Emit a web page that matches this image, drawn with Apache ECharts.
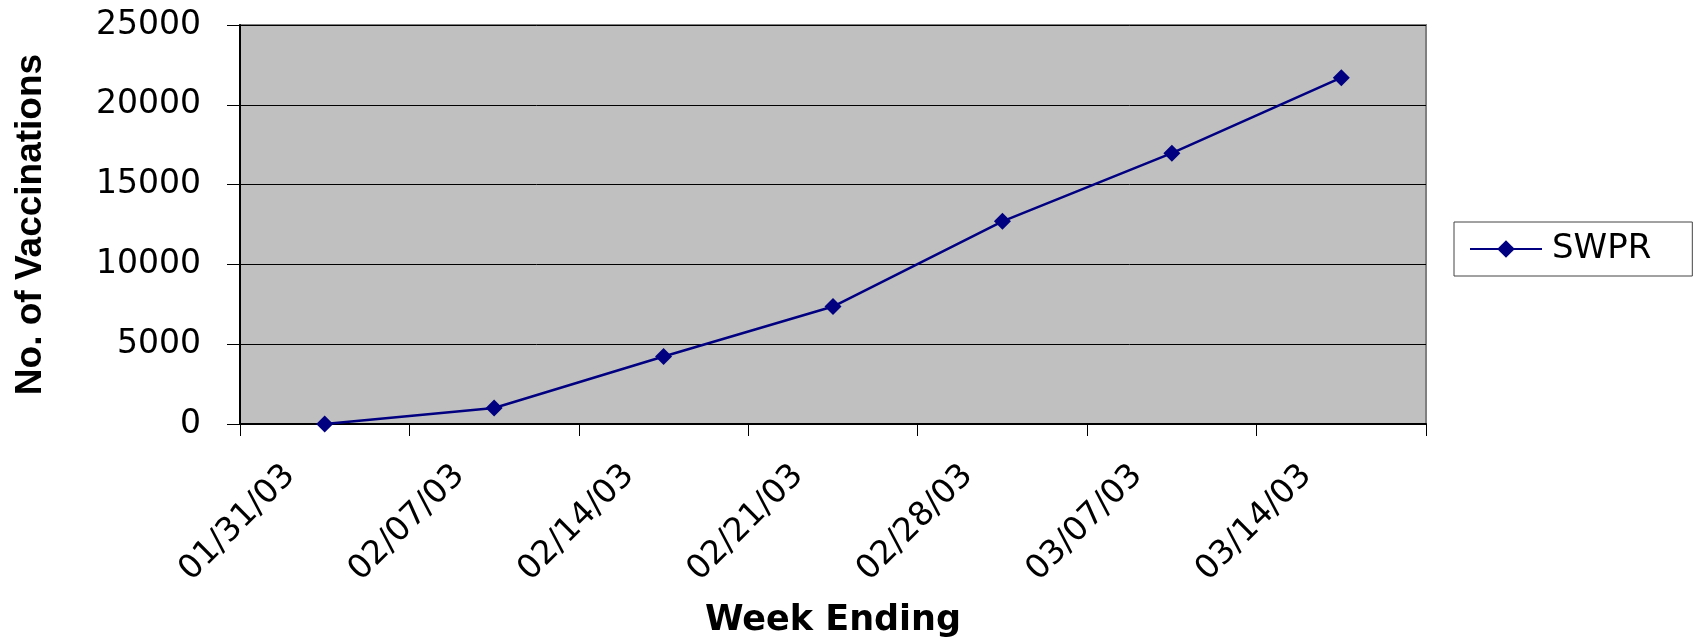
<!DOCTYPE html>
<html>
<head>
<meta charset="utf-8">
<script src="https://cdn.jsdelivr.net/npm/echarts@6/dist/echarts.min.js"></script>
<style>
html,body{margin:0;padding:0;background:#fff;}
#chart{width:1694px;height:638px;}
</style>
</head>
<body>
<div id="chart"></div>
<script>
var categories = ['01/31/03', '02/07/03', '02/14/03', '02/21/03', '02/28/03', '03/07/03', '03/14/03'];
var swprValues = [0, 1000, 4230, 7360, 12700, 16970, 21700];
var seriesName = 'SWPR';
var xTitle = 'Week Ending';
var yTitle = 'No. of Vaccinations';

var chart = echarts.init(document.getElementById('chart'), null, {renderer: 'canvas'});
chart.setOption({
  animation: false,
  backgroundColor: '#ffffff',
  grid: {
    left: 240, top: 25, right: 268, bottom: 214,
    containLabel: false,
    outerBoundsMode: 'none',
    show: true, backgroundColor: '#C0C0C0', borderColor: '#808080', borderWidth: 2
  },
  legend: {
    left: 1454, top: 222,
    orient: 'vertical',
    data: [seriesName],
    itemWidth: 72, itemHeight: 22,
    padding: [10, 41, 10, 15],
    borderColor: '#444', borderWidth: 1, backgroundColor: '#fff',
    textStyle: {fontFamily: 'DejaVu Sans', fontSize: 34, color: '#000', padding: [0, 0, 0, 5]}
  },
  xAxis: {
    type: 'category',
    data: categories,
    boundaryGap: true,
    name: xTitle,
    nameLocation: 'middle',
    nameGap: 179,
    nameTextStyle: {fontFamily: 'DejaVu Sans', fontWeight: 'bold', fontSize: 35, color: '#000'},
    axisLine: {show: true, lineStyle: {color: '#000', width: 2}},
    axisTick: {show: true, interval: 0, length: 12, lineStyle: {color: '#000', width: 1}},
    axisLabel: {
      interval: 0, rotate: 45, margin: 12,
      fontFamily: 'DejaVu Sans', fontSize: 33, color: '#000',
      padding: [0, 49, 0, 0]
    },
    splitLine: {show: false}
  },
  yAxis: {
    type: 'value',
    min: 0, max: 25000, interval: 5000,
    name: yTitle,
    nameLocation: 'middle',
    nameGap: 191,
    nameTextStyle: {fontFamily: 'Liberation Sans', fontWeight: 'bold', fontSize: 37, color: '#000'},
    axisLine: {show: true, lineStyle: {color: '#000', width: 2}},
    axisTick: {show: true, length: 13, lineStyle: {color: '#000', width: 1}},
    axisLabel: {
      margin: 39, fontFamily: 'DejaVu Sans', fontSize: 33, color: '#000',
      formatter: function (v) { return String(v); }
    },
    splitLine: {show: true, lineStyle: {color: '#000', width: 1}}
  },
  series: [{
    name: seriesName,
    type: 'line',
    data: swprValues,
    symbol: 'diamond',
    symbolSize: 17,
    showAllSymbol: true,
    lineStyle: {color: '#000080', width: 2.5},
    itemStyle: {color: '#000080'}
  }]
});
</script>
</body>
</html>
